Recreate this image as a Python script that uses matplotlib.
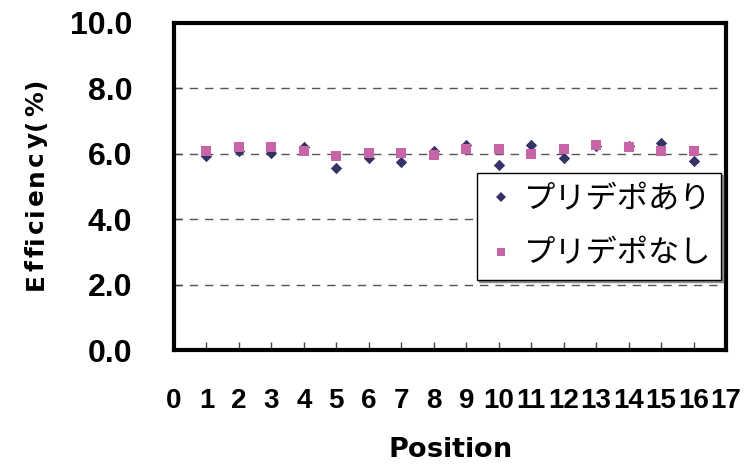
import matplotlib
matplotlib.use("Agg")
import matplotlib.pyplot as plt
from matplotlib.lines import Line2D
from matplotlib.font_manager import FontProperties, findfont, get_font

# Efficiency by position, with and without pre-deposition
positions = list(range(1, 17))
with_predep = [5.92, 6.10, 6.03, 6.22, 5.56, 5.86, 5.74, 6.10,
               6.28, 5.67, 6.27, 5.86, 6.25, 6.25, 6.34, 5.77]
without_predep = [6.10, 6.20, 6.20, 6.08, 5.92, 6.03, 6.03, 5.96,
                  6.15, 6.15, 6.00, 6.15, 6.27, 6.22, 6.10, 6.10]
series_labels = ["プリデポあり", "プリデポなし"]
x_ticks = list(range(0, 18))
y_ticks = [0.0, 2.0, 4.0, 6.0, 8.0, 10.0]
x_title = "Position"
y_title = "Efficiency(%)"

navy = "#333366"
pink = "#C864A8"

num_font = ["Liberation Sans", "DejaVu Sans"]
jp_font = ["Noto Sans CJK JP", "DejaVu Sans"]
title_font = "DejaVu Sans"

W, H, DPI = 751, 467, 100
fig = plt.figure(figsize=(W / DPI, H / DPI), dpi=DPI)
ax = fig.add_axes([174 / W, 1 - 350 / H, 552 / W, 327 / H])

ax.scatter(positions, with_predep, marker="D", s=5.8 ** 2, color=navy,
           linewidths=0, zorder=3)
ax.scatter(positions, without_predep, marker="s", s=7.4 ** 2, color=pink,
           linewidths=0, zorder=4)

ax.set_xlim(0, 17)
ax.set_ylim(0, 10)
ax.set_xticks(x_ticks)
ax.set_xticklabels([str(v) for v in x_ticks], fontfamily=num_font,
                   fontsize=20, fontweight="bold")
ax.set_yticks(y_ticks)
ax.set_yticklabels([f"{v:.1f}" for v in y_ticks], fontfamily=num_font,
                   fontsize=23, fontweight="bold")

ax.tick_params(axis="x", direction="in", length=6, width=1, color="#444444",
               pad=27, top=False)
ax.tick_params(axis="y", direction="in", length=6, width=1, color="#444444",
               pad=30, right=False)

for gy in y_ticks[1:-1]:
    ax.axhline(gy, color="#555555", linestyle=(0, (6, 5)), linewidth=1,
               zorder=1)

for side in ax.spines.values():
    side.set_linewidth(3)
    side.set_color("black")


def spaced_text(text, x_px, y_px, size_pt, gap_px, vertical=False):
    """Draw text letter by letter with extra tracking between glyphs.
    x_px, y_px: baseline start in pixels from the bottom-left corner."""
    prop = FontProperties(family=title_font, size=size_pt, weight="bold")
    font = get_font(findfont(prop))
    font.set_size(size_pt, DPI)
    pos = 0.0
    for ch in text:
        if vertical:
            fig.text(x_px / W, (y_px + pos) / H, ch, fontproperties=prop,
                     rotation=90, rotation_mode="anchor",
                     ha="left", va="baseline")
        else:
            fig.text((x_px + pos) / W, y_px / H, ch, fontproperties=prop,
                     ha="left", va="baseline")
        glyph = font.load_char(ord(ch))
        pos += glyph.linearHoriAdvance / 65536 + gap_px


spaced_text(x_title, 388, 10, 19.5, 0.0)
spaced_text(y_title, 43, 177, 17.8, 2.5, vertical=True)

handles = [
    Line2D([], [], linestyle="none", marker="D", markersize=5,
           color=navy, markeredgewidth=0),
    Line2D([], [], linestyle="none", marker="s", markersize=6,
           color=pink, markeredgewidth=0),
]
leg = ax.legend(handles, series_labels, loc="upper right",
                bbox_to_anchor=(0.991, 0.541), bbox_transform=ax.transAxes,
                prop={"family": jp_font, "size": 22.5}, frameon=True,
                fancybox=False, edgecolor="black", framealpha=1,
                shadow={"ox": 1.5, "oy": -1.5, "color": "#8a8a8a",
                        "alpha": 1},
                handlelength=0.88, handletextpad=0.28, borderpad=0.32,
                labelspacing=0.72, borderaxespad=0)
leg.get_frame().set_linewidth(1)

fig.savefig("out.png", dpi=DPI)
